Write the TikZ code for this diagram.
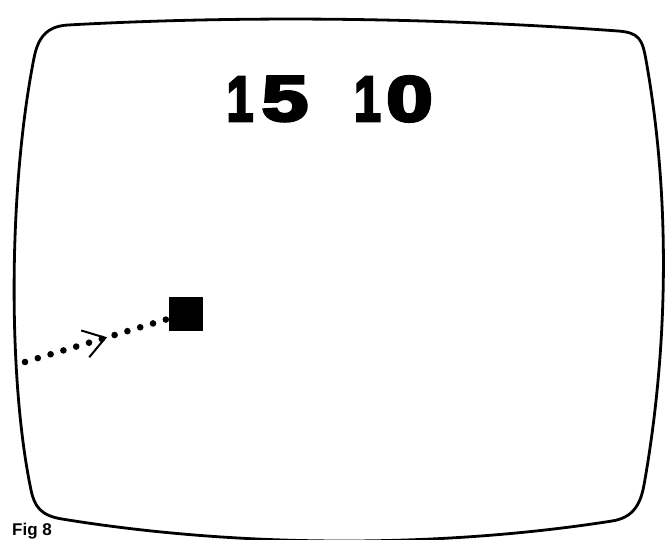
\documentclass[tikz,border=0pt]{standalone}
\usepackage{graphicx}
\usepackage{fontspec}
\setmainfont{Liberation Sans}
\newfontfamily\scorefont{Liberation Sans}[BoldFeatures={FakeBold=4.5}]
\usetikzlibrary{arrows.meta,decorations.markings}

\begin{document}
\begin{tikzpicture}[x=1pt,y=-1pt,
        screen/.style={line width=2.8pt, line join=round},
        digit/.style={inner sep=0pt, font=\scorefont\bfseries\fontsize{64}{64}\selectfont},
        ball/.style={fill=black, minimum size=34pt, inner sep=0pt},
        trail/.style={line width=6.6pt, line cap=round, dash pattern=on 0pt off 13.37pt}]
    \useasboundingbox (0,0) rectangle (671,540);
    % tube outline
    \draw[screen] (68,25) .. controls (250,15) and (440,18) .. (618,31)
        .. controls (639,32.6) and (642.3,39) .. (646,60)
        .. controls (671,200) and (668,350) .. (644,485)
        .. controls (640.4,505) and (632.6,517.8) .. (612,521)
        .. controls (440,548) and (240,548) .. (62,519)
        .. controls (40.6,515.5) and (34.5,506.5) .. (31,490)
        .. controls (8,380) and (8,190) .. (34,58)
        .. controls (37.9,38.2) and (46.2,26.2) .. (68,25) -- cycle;
    % score
    \node[digit] (home1) at (240,99) {\scalebox{0.75}[1]{1}};
    \node[digit] (home5) at (285,99) {\scalebox{1.3}[1]{5}};
    \node[digit] (away1) at (367.5,99) {\scalebox{0.75}[1]{1}};
    \node[digit] (away0) at (409.5,99) {\scalebox{1.3}[1]{0}};
    % ball and its path
    \node[ball] (ball) at (186,313.5) {};
    \coordinate (trail) at (25,362);
    \draw[trail, postaction={decorate, decoration={markings,
        mark=at position 85.7pt with {\arrow[line width=2pt]{Straight Barb[length=21pt,width=28pt]}}}}]
        (trail) -- (ball);
    \node[anchor=base west, inner sep=0pt, font=\bfseries\fontsize{17}{17}\selectfont] (caption) at (12,535.5) {Fig 8};
\end{tikzpicture}
\end{document}
